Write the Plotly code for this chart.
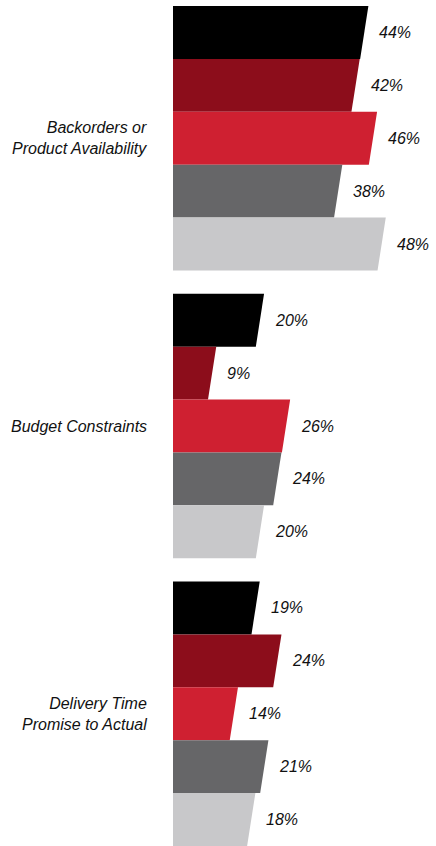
import plotly.graph_objects as go

# Survey results: share of respondents citing each issue, by segment
categories = ["Backorders or<br>Product Availability", "Budget Constraints", "Delivery Time<br>Promise to Actual"]
segments = ["Segment 1", "Segment 2", "Segment 3", "Segment 4", "Segment 5"]
values = [
    [44, 42, 46, 38, 48],
    [20, 9, 26, 24, 20],
    [19, 24, 14, 21, 18],
]
colors = ["#000000", "#8c0d1b", "#cf2031", "#666668", "#c8c8ca"]

BAR_H = 1.0          # each bar fills one y unit
GROUP_GAP = 0.44     # space between category groups, in y units
SLANT = 0.95         # half the horizontal offset of the slanted bar end, in x units
FONT = "Liberation Sans, Arial, sans-serif"

fig = go.Figure()
annotations = []
for g, cat in enumerate(categories):
    base = g * (len(segments) * BAR_H + GROUP_GAP)
    for i, (seg, v) in enumerate(zip(segments, values[g])):
        yc = base + i * BAR_H
        top, bot = yc - BAR_H / 2, yc + BAR_H / 2
        fig.add_trace(go.Scatter(
            x=[0, v + SLANT, v - SLANT, 0, 0],
            y=[top, top, bot, bot, top],
            mode="lines", fill="toself", fillcolor=colors[i],
            line=dict(width=0, color=colors[i]),
            name=seg, showlegend=False, hoverinfo="skip",
        ))
        annotations.append(dict(
            x=v, y=yc, xref="x", yref="y", text=f"<i>{v}%</i>",
            showarrow=False, xanchor="left", yanchor="middle", xshift=13,
            font=dict(size=16, color="#111111", family=FONT),
        ))
    annotations.append(dict(
        x=0, y=base + 2 * BAR_H, xref="x", yref="y", text=f"<i>{cat}</i>",
        showarrow=False, xanchor="right", yanchor="middle", xshift=-24, align="right",
        font=dict(size=16, color="#111111", family=FONT),
    ))

y_end = 2 * (len(segments) * BAR_H + GROUP_GAP) + (len(segments) - 0.5) * BAR_H

fig.update_layout(
    width=436, height=846,
    margin=dict(l=173, r=0, t=6, b=0),
    paper_bgcolor="white", plot_bgcolor="white",
    xaxis=dict(range=[0, 60.5], visible=False, fixedrange=True),
    yaxis=dict(range=[y_end, -0.5], visible=False, fixedrange=True),
    annotations=annotations,
)

fig.write_html("out.html")
